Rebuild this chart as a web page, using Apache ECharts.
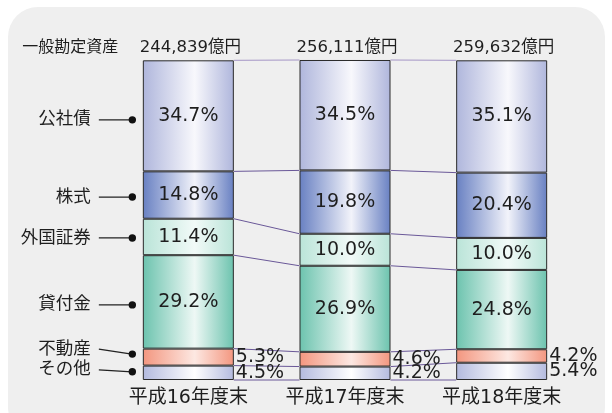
<!DOCTYPE html>
<html><head><meta charset="utf-8">
<script src="https://cdn.jsdelivr.net/npm/echarts@6/dist/echarts.min.js"></script>
<style>html,body{margin:0;padding:0;background:#fff}#c{width:612px;height:413px}</style>
</head><body><div id="c"></div>
<script>
// ---- data ----
const categories = ['平成16年度末', '平成17年度末', '平成18年度末'];
const totals = ['244,839億円', '256,111億円', '259,632億円'];
const totalTitle = '一般勘定資産';
// series listed bottom to top
const seriesNames = ['その他', '不動産', '貸付金', '外国証券', '株式', '公社債'];
const sonota = [4.5, 4.2, 5.4];
const fudosan = [5.3, 4.6, 4.2];
const kashitsuke = [29.2, 26.9, 24.8];
const gaikoku = [11.4, 10.0, 10.0];
const kabushiki = [14.8, 19.8, 20.4];
const koshasai = [34.7, 34.5, 35.1];
const seriesValues = [sonota, fudosan, kashitsuke, gaikoku, kabushiki, koshasai];

// ---- styles ----
const FONT = 'DejaVu Sans, Noto Sans CJK JP, sans-serif';
const TXT = '#1e1e1e';
const BAR_W = 91;
const edgeColors = ['#b3bade', '#f3967f', '#6cc3ae', '#bae4d8', '#6880c2', '#afb6dc'];
const midColors  = ['#ffffff', '#fde8e2', '#eef8f5', '#f2faf8', '#f2f3fa', '#f8f8fc'];
const outsideLabel = [true, true, false, false, false, false];
// annotation offsets (text dy, dot dy) relative to segment centre of first bar
const annTextDy = [-3, -8, 3, 1, 2, 4];
const annDotDy = [-1, -3, 3, 1, 2, 4];

function grad(i) {
  return new echarts.graphic.LinearGradient(0, 0, 1, 0, [
    {offset: 0, color: edgeColors[i]},
    {offset: 0.57, color: midColors[i]},
    {offset: 1, color: edgeColors[i]}
  ]);
}

function cumAt(ci, k) { // sum of first k series at category ci
  let s = 0;
  for (let j = 0; j < k; j++) s += seriesValues[j][ci];
  return s;
}

const barSeries = seriesNames.map((name, i) => ({
  name: name,
  type: 'bar',
  stack: 'all',
  barWidth: BAR_W,
  data: seriesValues[i],
  itemStyle: {color: grad(i), borderColor: '#2a2a2a', borderWidth: 1},
  label: {
    show: true,
    position: outsideLabel[i] ? 'right' : 'inside',
    distance: 2,
    formatter: p => p.value.toFixed(1) + '%',
    fontFamily: FONT,
    fontSize: 19,
    color: TXT
  },
  z: 3
}));

const connectorSeries = {
  type: 'custom',
  data: [[0, 0], [1, 0]],
  encode: {x: 0, y: 1},
  silent: true,
  z: 2,
  renderItem: function (params, api) {
    const i = params.dataIndex;
    const children = [];
    for (let k = 0; k <= seriesNames.length; k++) {
      const a = api.coord([i, cumAt(i, k)]);
      const b = api.coord([i + 1, cumAt(i + 1, k)]);
      children.push({
        type: 'line',
        shape: {x1: a[0] + BAR_W / 2, y1: a[1], x2: b[0] - BAR_W / 2, y2: b[1]},
        style: {stroke: k === seriesNames.length ? '#a596c6' : '#6a5898', lineWidth: 1}
      });
    }
    return {type: 'group', children: children};
  }
};

const annotationSeries = {
  type: 'custom',
  data: seriesNames.map((n, i) => [0, i]),
  encode: {x: 0},
  silent: true,
  z: 4,
  renderItem: function (params, api) {
    const i = params.dataIndex;
    const mid = cumAt(0, i) + seriesValues[i][0] / 2;
    const p = api.coord([0, mid]);
    const left = p[0] - BAR_W / 2;
    const ty = p[1] + annTextDy[i];
    const dy = p[1] + annDotDy[i];
    return {
      type: 'group',
      children: [
        {type: 'text', style: {x: left - 52, y: ty, text: seriesNames[i], align: 'right', verticalAlign: 'middle',
          fontFamily: FONT, fontSize: 17.5, fill: TXT}},
        {type: 'line', shape: {x1: left - 44, y1: ty, x2: left - 11, y2: dy}, style: {stroke: '#222', lineWidth: 1.2}},
        {type: 'circle', shape: {cx: left - 10.5, cy: dy, r: 3.7}, style: {fill: '#111'}}
      ]
    };
  }
};

const totalSeries = {
  type: 'custom',
  data: totals.map((t, i) => [i, 100]),
  encode: {x: 0, y: 1},
  silent: true,
  z: 4,
  renderItem: function (params, api) {
    const i = params.dataIndex;
    const p = api.coord([i, 100]);
    const children = [
      {type: 'text', style: {x: p[0] + 2, y: p[1] - 12, text: totals[i], align: 'center', verticalAlign: 'middle',
        fontFamily: FONT, fontSize: 16.5, fill: TXT}}
    ];
    if (i === 0) {
      children.push({type: 'text', style: {x: p[0] - 70, y: p[1] - 12, text: totalTitle, align: 'right', verticalAlign: 'middle',
        fontFamily: FONT, fontSize: 16, fill: TXT}});
    }
    return {type: 'group', children: children};
  }
};

const chart = echarts.init(document.getElementById('c'), null, {renderer: 'canvas'});
chart.setOption({
  animation: false,
  backgroundColor: '#ffffff',
  graphic: [{
    type: 'rect', z: -100, silent: true,
    shape: {x: 8, y: 7, width: 597, height: 430, r: 30},
    style: {fill: '#efefef'}
  }],
  grid: {left: 110, right: 32, top: 60, bottom: 33},
  xAxis: {
    type: 'category',
    data: categories,
    axisLine: {show: false},
    axisTick: {show: false},
    axisLabel: {fontFamily: FONT, fontSize: 19, color: TXT, margin: 9}
  },
  yAxis: {type: 'value', min: 0, max: 100, show: false},
  series: [...barSeries, connectorSeries, annotationSeries, totalSeries]
});
</script>
</body></html>
